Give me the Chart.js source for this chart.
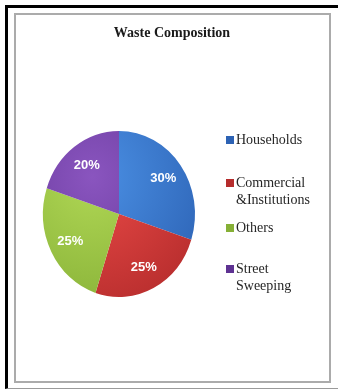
<!DOCTYPE html>
<html>
<head>
<meta charset="utf-8">
<script src="https://cdn.jsdelivr.net/npm/chart.js@4/dist/chart.umd.min.js"></script>
<style>
  body { margin: 0; background: #fff; }
  #wrap { position: relative; width: 338px; height: 391px; overflow: hidden; }
  #outer { position: absolute; left: 5px; top: 5px; width: 340px; height: 380px;
           border-left: 3px solid #000; border-top: 3px solid #000; border-bottom: 1px solid #9a9a9a; }
  #inner { position: absolute; left: 14px; top: 13px; width: 313px; height: 366px; border: 2px solid #ababab; }
  #wasteChart { position: absolute; left: 0; top: 0; }
</style>
</head>
<body>
<div id="wrap">
  <div id="outer"></div>
  <div id="inner"></div>
  <canvas id="wasteChart" width="338" height="391"></canvas>
</div>
<script>
// chart data
var chartTitle = 'Waste Composition';
var categories = ['Households', ['Commercial', '&Institutions'], 'Others', ['Street', 'Sweeping']];
var shares = [30, 25, 25, 20];

// slice colours: light / dark end of the shading
var lightColors = ['#4b90e4', '#ea4a47', '#b0d755', '#8a55bf'];
var darkColors = ['#2c62b4', '#b52c2c', '#86b036', '#5e3292'];

var yStretch = 83 / 76; // pie is a little taller than wide

function sliceFill(ctx) {
  var chart = ctx.chart;
  var a = chart.chartArea;
  var i = ctx.dataIndex;
  if (!a) return lightColors[i];
  var cx = (a.left + a.right) / 2, cy = (a.top + a.bottom) / 2;
  var r = (a.right - a.left) / 2;
  var g = chart.ctx.createRadialGradient(cx - r * 0.35, cy - r * 0.45, 0, cx - r * 0.35, cy - r * 0.45, r * 1.8);
  g.addColorStop(0, lightColors[i]);
  g.addColorStop(1, darkColors[i]);
  return g;
}

// squash/stretch the pie vertically
var stretchPie = {
  id: 'stretchPie',
  beforeDatasetsDraw: function(chart) {
    var a = chart.chartArea, c = chart.ctx;
    var cx = (a.left + a.right) / 2, cy = (a.top + a.bottom) / 2;
    c.save();
    c.translate(cx, cy);
    c.scale(1, yStretch);
    c.translate(-cx, -cy);
  },
  afterDatasetsDraw: function(chart) {
    chart.ctx.restore();
  }
};

// percentage labels inside the slices
var sliceLabels = {
  id: 'sliceLabels',
  afterDatasetsDraw: function(chart) {
    var c = chart.ctx;
    var meta = chart.getDatasetMeta(0);
    var total = shares.reduce(function(s, v) { return s + v; }, 0);
    c.save();
    c.font = 'bold 13px "Liberation Sans", Arial, sans-serif';
    c.fillStyle = '#ffffff';
    c.textAlign = 'center';
    c.textBaseline = 'middle';
    meta.data.forEach(function(arc, i) {
      var p = arc.getProps(['x', 'y', 'startAngle', 'endAngle', 'outerRadius'], true);
      var mid = (p.startAngle + p.endAngle) / 2;
      var r = p.outerRadius * 0.72;
      var x = p.x + Math.cos(mid) * r;
      var y = p.y + Math.sin(mid) * r * yStretch;
      c.fillText(Math.round(shares[i] / total * 100) + '%', x, y);
    });
    c.restore();
  }
};

// title and legend drawn like the original sheet
var titleAndLegend = {
  id: 'titleAndLegend',
  afterDraw: function(chart) {
    var c = chart.ctx;
    c.save();
    c.fillStyle = '#1a1a1a';
    c.textAlign = 'center';
    c.textBaseline = 'middle';
    c.font = 'bold 14px "Liberation Serif", "Times New Roman", serif';
    c.fillText(chartTitle, 172, 33);

    var rowY = [140, 183, 228, 269];
    c.font = '14px "Liberation Serif", "Times New Roman", serif';
    c.textAlign = 'left';
    categories.forEach(function(label, i) {
      var lines = Array.isArray(label) ? label : [label];
      c.fillStyle = darkColors[i];
      c.fillRect(226, rowY[i] - 4, 8, 8);
      c.fillStyle = '#262626';
      lines.forEach(function(t, j) {
        c.fillText(t, 236, rowY[i] + j * 17);
      });
    });
    c.restore();
  }
};

var ctx = document.getElementById('wasteChart').getContext('2d');
var wasteChart = new Chart(ctx, {
  type: 'pie',
  data: {
    labels: categories,
    datasets: [{
      data: shares,
      backgroundColor: sliceFill,
      borderWidth: 0
    }]
  },
  options: {
    responsive: false,
    animation: false,
    devicePixelRatio: 1,
    layout: { padding: { left: 43, right: 143, top: 138, bottom: 101 } },
    plugins: {
      legend: { display: false },
      title: { display: false },
      tooltip: { enabled: false }
    }
  },
  plugins: [stretchPie, sliceLabels, titleAndLegend]
});
</script>
</body>
</html>
